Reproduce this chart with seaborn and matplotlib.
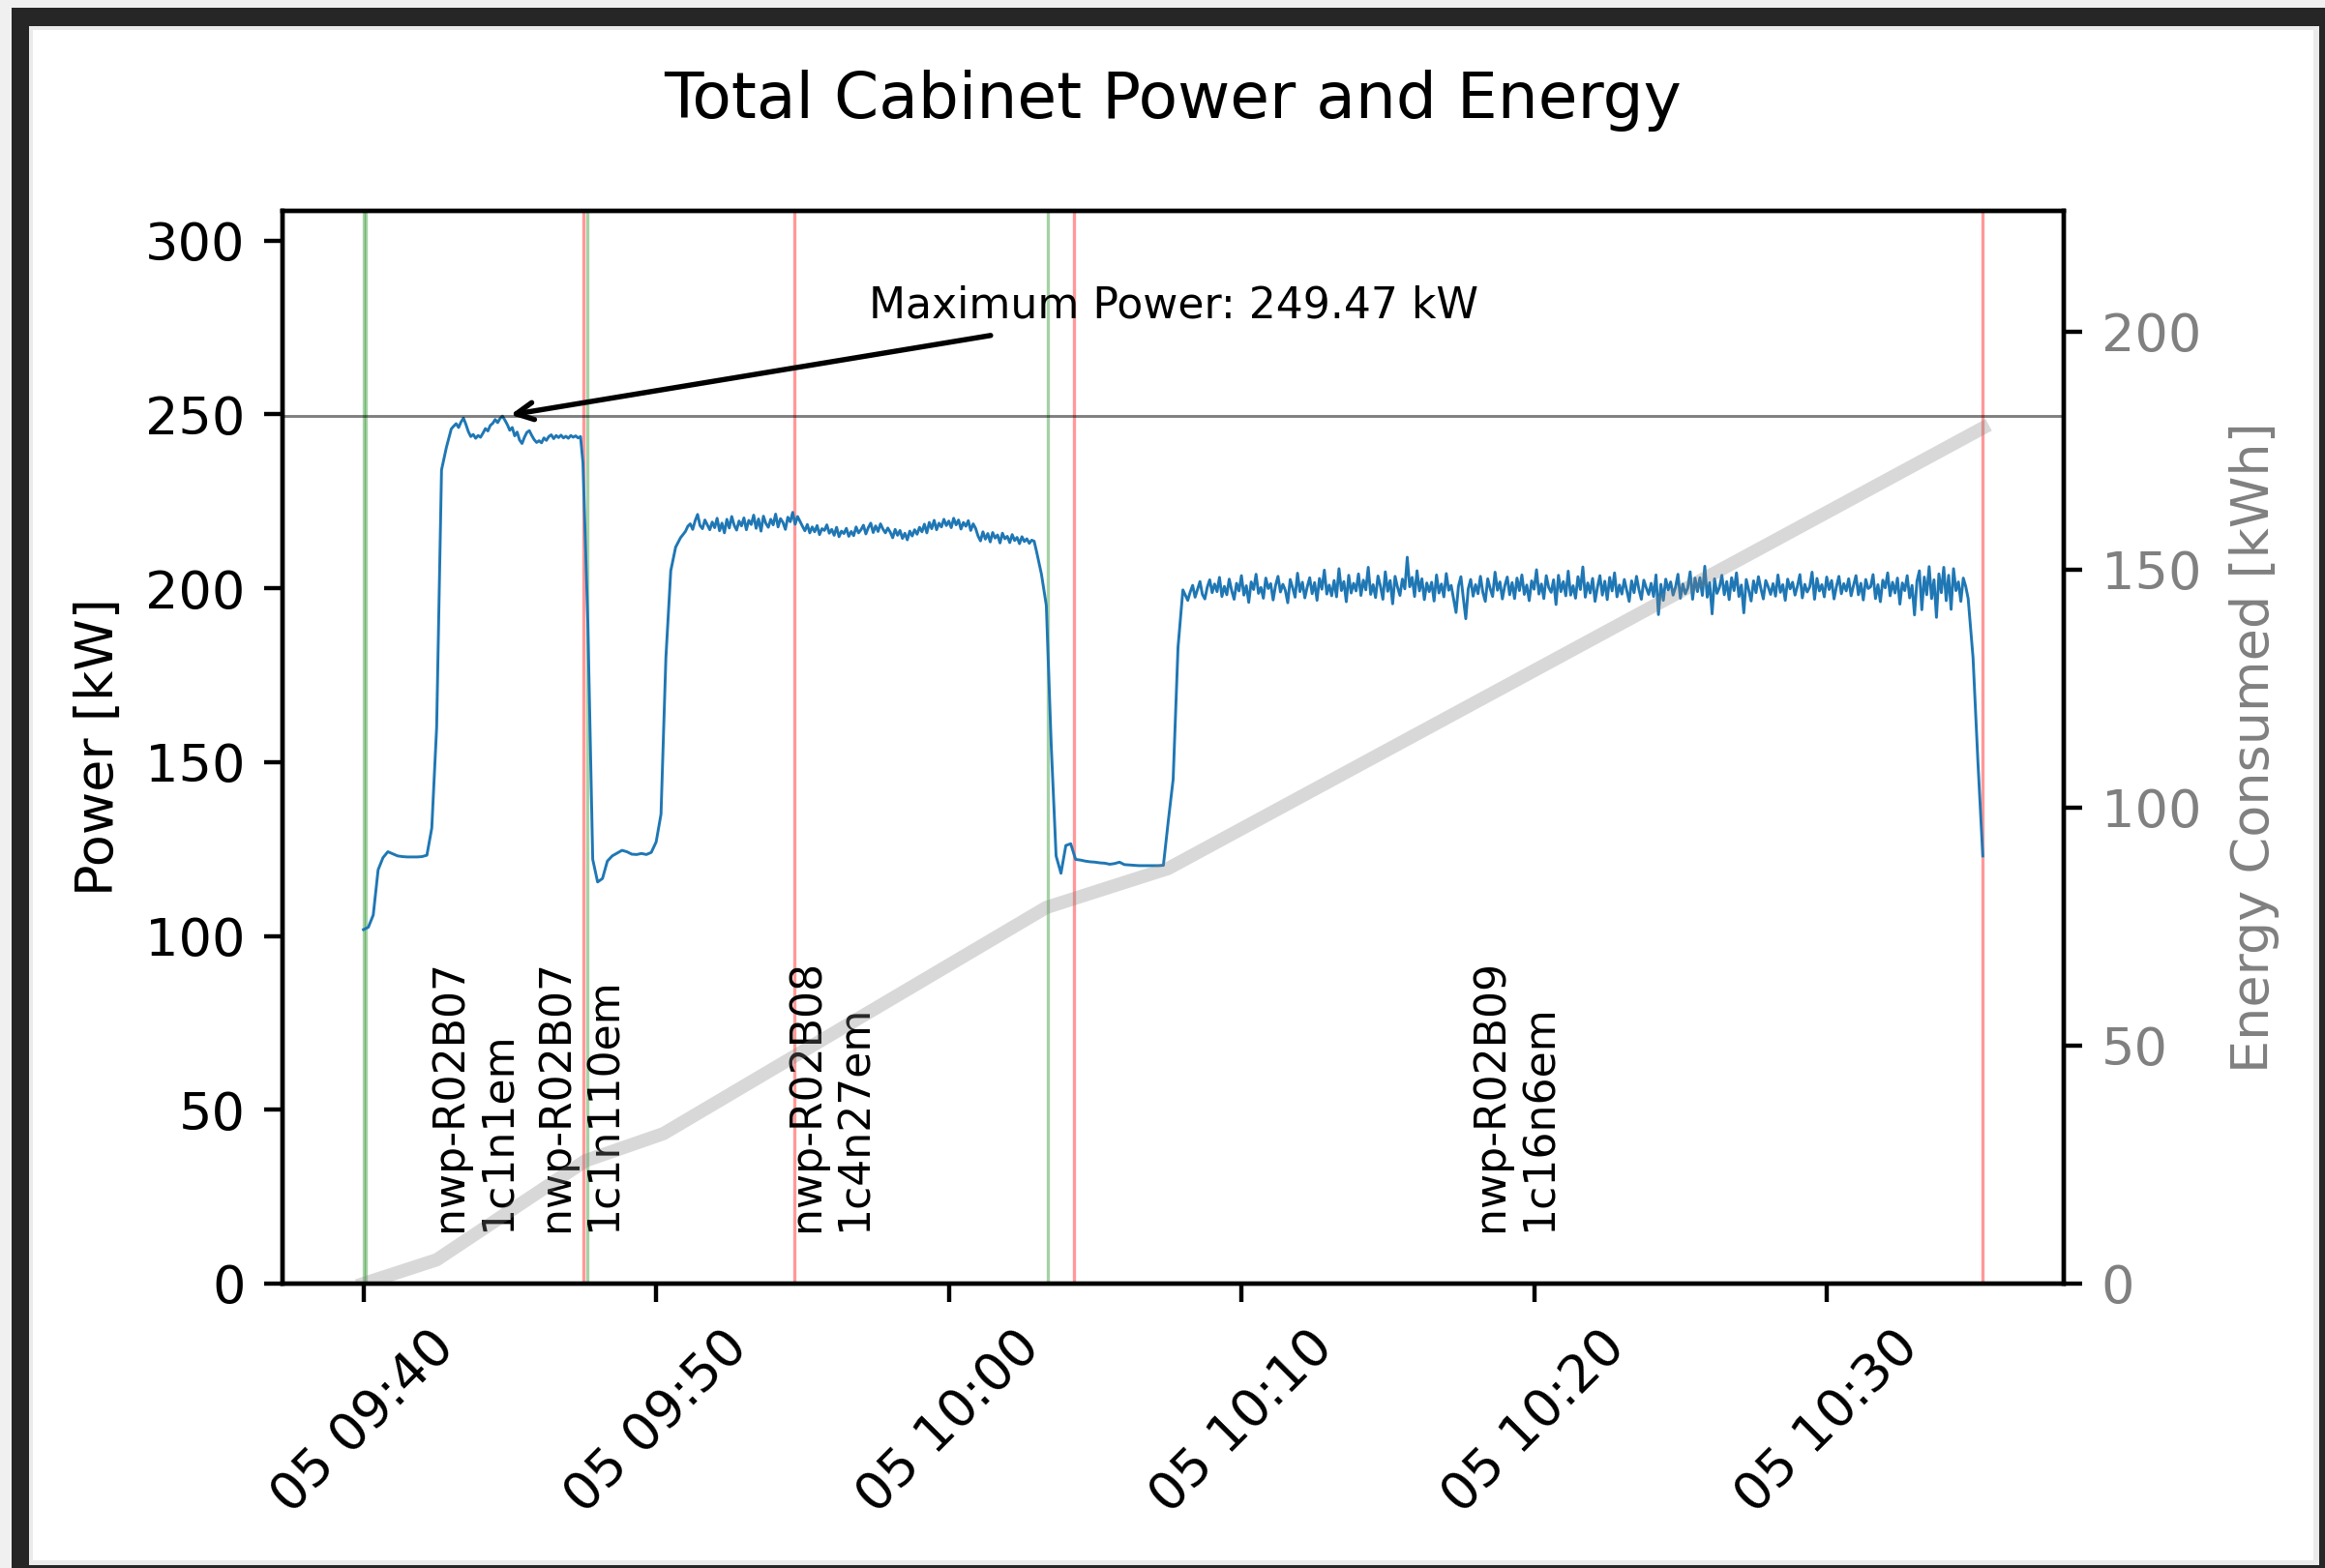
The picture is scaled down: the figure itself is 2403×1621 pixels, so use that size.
import numpy as np
import pandas as pd
import matplotlib
matplotlib.use("Agg")
import matplotlib.pyplot as plt
import matplotlib.dates as mdates
from matplotlib.patches import Rectangle
import seaborn as sns

# ---------------- data ----------------
DAY = "2024-03-05"

# power readings (kW); each block has its own start time and sampling step (s)
ramp_up_1 = [101.8, 102.5, 106.0, 119.0, 122.5, 124.2, 123.6, 123.0, 122.8, 122.7,
             122.7, 122.7, 122.8, 123.2, 131.0, 160.0, 234.0, 240.5]
plateau_1 = [245.8, 246.6, 247.3, 246.2, 247.8, 248.9, 247.1, 245.0, 243.6, 244.2, 243.1, 243.9,
             243.4, 244.6, 245.9, 245.2, 246.8, 247.4, 248.5, 247.6, 248.8, 249.47, 248.3, 247.0,
             245.4, 246.2, 243.8, 244.9, 242.6, 241.6, 243.4, 244.8, 245.3, 243.9, 242.7, 241.9,
             242.4, 241.8, 243.2, 242.5, 243.6, 244.1, 243.0, 243.9, 243.3, 244.0, 243.2, 243.7,
             243.1, 243.9, 243.4, 243.8, 243.2, 243.6]
gap_1 = [236.0, 190.0, 122.0, 115.5, 116.5, 121.5, 123.0, 123.8, 124.6, 124.2,
         123.5, 123.4, 123.7, 123.4, 124.0, 127.0, 135.0, 180.0, 205.0, 211.8, 214.5]
plateau_2 = [216.3, 217.8, 218.5, 216.9, 219.4, 221.2, 218.0, 217.1, 219.6, 218.2, 216.8, 219.0,
             217.4, 220.1, 216.5, 218.7, 215.9, 219.8, 217.3, 220.6, 218.1, 216.7, 219.3, 217.9,
             220.2, 216.8, 219.5, 218.3, 221.0, 217.2, 219.9, 216.4, 220.7, 218.6, 217.5, 219.8,
             218.2, 221.3, 217.6, 220.0, 218.9, 216.9, 220.4, 219.1, 221.8, 218.4, 220.6, 219.2,
             217.8, 216.5, 218.3, 215.9, 217.6, 216.2, 218.0, 215.4, 217.1, 216.6, 218.2, 215.8,
             216.9, 215.2, 217.5, 214.8, 216.4, 215.7, 217.2, 214.9, 216.3, 215.1, 217.6, 215.9,
             216.8, 218.1, 215.6, 217.4, 218.7, 216.0, 217.9, 216.3, 218.5, 217.0, 215.9, 217.3,
             216.1, 214.5, 216.9, 215.2, 216.6, 214.3, 215.8, 213.9, 216.4, 215.0, 216.8, 215.5,
             217.5, 216.2, 218.4, 215.9, 218.9, 217.1, 219.5, 216.8, 218.7, 217.6, 219.8, 218.0,
             219.3, 217.4, 220.1, 218.2, 219.6, 217.0, 218.9, 217.8, 219.4, 216.6, 218.5, 217.2,
             215.0, 213.6, 216.2, 214.1, 215.7, 213.3, 216.0, 214.4, 215.3, 213.0, 215.8, 214.2,
             214.9, 213.1, 215.4, 213.7, 214.6, 212.8, 214.8, 213.4, 214.2, 212.9, 213.8, 213.5]
gap_2 = [210.5, 204.0, 195.0, 155.0, 123.0, 118.0, 126.0, 126.5, 122.0, 121.8,
         121.5, 121.3, 121.2, 121.0, 120.9, 120.6, 120.8, 121.2, 120.5, 120.4,
         120.3, 120.2, 120.2, 120.2, 120.2, 120.2, 120.3, 133.0, 145.0, 183.0, 199.5]
plateau_3 = [196.5, 198.9, 200.8, 197.4, 199.6, 201.9, 198.2, 196.9, 200.3, 202.4,
             198.7, 201.2, 199.0, 203.1, 197.6, 200.5, 198.1, 202.6, 199.3, 196.8,
             201.4, 199.2, 203.6, 198.0, 200.7, 195.9, 201.8, 199.6, 204.0, 198.5,
             200.2, 197.1, 202.9, 199.9, 201.3, 196.6, 200.8, 203.4, 198.9, 201.1,
             199.4, 195.8, 202.5, 200.1, 197.4, 204.3, 199.0, 201.7, 197.2, 200.4,
             203.0, 198.4, 201.6, 196.5, 202.8, 199.7, 205.2, 198.3, 200.9, 197.8,
             202.2, 197.5, 205.6, 199.3, 201.9, 196.1, 203.7, 198.6, 201.4, 199.2,
             204.1, 197.9, 202.3, 199.5, 206.0, 198.2, 201.0, 197.3, 203.5, 200.6,
             196.8, 204.7, 199.1, 202.2, 195.5, 203.4, 200.3, 197.9, 202.6, 199.8,
             208.9, 200.4, 203.1, 197.6, 205.0, 199.2, 202.7, 196.7, 201.5, 199.0,
             201.7, 196.3, 203.8, 198.6, 201.2, 197.5, 204.2, 199.4, 200.8, 196.9,
             193.0, 200.6, 203.3, 197.1, 191.2, 199.8, 202.5, 197.7, 201.0, 198.4,
             203.4, 198.8, 196.2, 202.7, 199.9, 197.6, 204.6, 199.4, 201.8, 196.9,
             200.7, 203.2, 198.1, 201.6, 197.0, 202.9, 199.3, 203.8, 198.2, 200.9,
             196.4, 202.1, 199.7, 205.3, 198.3, 201.2, 197.0, 203.6, 200.2, 198.8,
             202.4, 195.3, 203.7, 199.0, 201.9, 197.8, 204.9, 198.0, 200.7, 197.1,
             203.3, 199.6, 206.1, 197.4, 201.5, 198.6, 202.8, 196.2, 200.3, 203.6,
             198.0, 202.0, 196.7, 203.1, 199.2, 204.4, 197.5, 200.9, 198.3, 202.5,
             199.4, 196.2, 202.1, 198.7, 203.4, 199.6, 196.8, 202.3, 200.1, 198.2,
             201.4, 197.6, 203.8, 192.4, 201.1, 196.5, 202.6, 199.5, 201.8, 198.0,
             200.3, 204.0, 197.1, 201.2, 198.4, 200.0, 204.7, 196.8, 202.9, 199.0,
             203.0, 197.9, 206.3, 197.4, 201.6, 192.6, 202.7, 198.5, 200.2, 203.7,
             198.1, 201.9, 196.7, 203.0, 199.3, 204.4, 197.6, 200.9, 192.9, 202.5,
             199.5, 196.3, 202.1, 198.7, 203.3, 199.9, 196.9, 202.2, 200.4, 198.2,
             201.3, 197.7, 203.8, 198.8, 201.0, 196.5, 202.6, 199.8, 201.7, 198.0,
             200.6, 203.9, 197.2, 201.1, 198.9, 200.3, 204.6, 196.8, 202.8, 199.2,
             201.0, 197.5, 203.2, 199.6, 202.2, 196.9, 200.5, 203.4, 198.4, 201.3,
             199.2, 202.7, 197.8, 200.8, 203.6, 198.1, 201.4, 196.6, 202.5, 199.9,
             200.4, 203.9, 197.0, 201.0, 196.1, 202.3, 200.1, 204.4, 197.8, 201.7,
             198.6, 202.9, 195.4, 201.5, 199.3, 203.6, 197.2, 200.8, 192.3, 202.0,
             205.0, 193.8, 203.2, 198.1, 206.2, 197.0, 202.4, 191.6, 204.1, 198.7,
             206.0, 196.4, 203.7, 193.9, 205.6, 199.3, 201.8, 196.2, 202.9, 200.5]
ramp_down = [197.0, 180.0, 150.0, 123.0]

block_values = [ramp_up_1, plateau_1, gap_1, plateau_2, gap_2, plateau_3, ramp_down]
block_start = ["09:40:00", "09:43:00", "09:47:30", "09:51:00", "10:03:00", "10:08:10", "10:34:50"]
block_step_s = [10, 5, 10, 5, 10, 5, 10]

# cumulative energy (kWh)
energy_times = ["09:40:00", "09:42:30", "09:47:35", "09:50:15", "10:03:20", "10:07:30", "10:35:20"]
energy_kwh = [0.0, 5.0, 25.8, 31.5, 79.0, 87.2, 179.7]

# jobs
job_names = ["nwp-R02B07\n1c1n1em", "nwp-R02B07\n1c1n110em",
             "nwp-R02B08\n1c4n27em", "nwp-R02B09\n1c16n6em"]
job_start = ["09:40:00", "09:40:04", "09:47:38", "10:03:23"]
job_end = ["09:47:30", "09:54:44", "10:04:16", "10:35:20"]

power_ticks = [0, 50, 100, 150, 200, 250, 300]
energy_ticks = [0, 50, 100, 150, 200]
power_ylim = (0, 308.5)
energy_ylim = (0, 225.3)

# ---------------- frames ----------------
ts = lambda s: pd.Timestamp(f"{DAY} {s}")
parts = []
for vals, start, step in zip(block_values, block_start, block_step_s):
    parts.append(pd.DataFrame({
        "time": ts(start) + pd.to_timedelta(np.arange(len(vals)) * step, unit="s"),
        "power": vals,
    }))
power_df = pd.concat(parts, ignore_index=True)
energy_df = pd.DataFrame({
    "time": pd.to_datetime([f"{DAY} {t}" for t in energy_times]),
    "energy": energy_kwh,
})

# ---------------- style ----------------
k = 1.32
plt.rcParams.update({
    "font.family": ["DejaVu Sans"],
    "font.size": 13,
    "axes.linewidth": 0.8 * k,
    "xtick.major.size": 3.5 * k, "ytick.major.size": 3.5 * k,
    "xtick.major.width": 0.8 * k, "ytick.major.width": 0.8 * k,
    "xtick.major.pad": 3.5 * k, "ytick.major.pad": 3.5 * k,
    "xtick.labelsize": 13, "ytick.labelsize": 13,
    "axes.labelsize": 13, "axes.labelpad": 4 * k,
})

W, H = 2403, 1621
fig = plt.figure(figsize=(W / 300, H / 300), dpi=300, facecolor="#f0f0f0")

def frame_rect(x0, y0, x1, y1, color, z):
    fig.add_artist(Rectangle((x0 / W, 1 - y1 / H), (x1 - x0) / W, (y1 - y0) / H,
                             transform=fig.transFigure, facecolor=color,
                             edgecolor="none", zorder=z))

frame_rect(11.5, 8, W, H, "#262626", -30)
frame_rect(30, 27, 2397, 1618, "#ebebeb", -29)
frame_rect(34, 31, 2391, 1613, "white", -28)

ax = fig.add_axes([292 / W, 1 - 1327 / H, (2133 - 292) / W, (1327 - 218) / H])

# job start / end markers
for s, e in zip(job_start, job_end):
    ax.axvline(ts(s), color="green", alpha=0.35, lw=0.8)
    ax.axvline(ts(e), color="red", alpha=0.4, lw=0.8)

sns.lineplot(data=power_df, x="time", y="power", ax=ax, color="#1f77b4", lw=0.7)

pmax = power_df["power"].max()
tmax = power_df["time"][power_df["power"].idxmax()]
ax.axhline(pmax, color="black", alpha=0.5, lw=0.7)
ax.annotate(f"Maximum Power: {pmax:.2f} kW", xy=(tmax, pmax),
            xytext=(0.5, 0.912), textcoords="axes fraction",
            ha="center", va="center", fontsize=10.6,
            arrowprops=dict(arrowstyle="->", color="black", lw=1.3))

for name, s, e in zip(job_names, job_start, job_end):
    mid = ts(s) + (ts(e) - ts(s)) / 2
    ax.text(mid, 15, name, rotation=90, ha="center", va="bottom",
            multialignment="left", fontsize=10.6)

ax.set_ylim(*power_ylim)
ax.set_yticks(power_ticks)
ax.set_ylabel("Power [kW]")
ax.set_xlabel("")
ax.xaxis.set_major_locator(mdates.MinuteLocator(byminute=range(0, 60, 10)))
ax.xaxis.set_major_formatter(mdates.DateFormatter("%d %H:%M"))
ax.tick_params(axis="x", labelrotation=45)
ax.set_title("Total Cabinet Power and Energy", fontsize=15.9, pad=23)

ax2 = ax.twinx()
sns.lineplot(data=energy_df, x="time", y="energy", ax=ax2, color="gray", alpha=0.3, lw=3.3)
ax2.set_ylim(*energy_ylim)
ax2.set_yticks(energy_ticks)
ax2.set_ylabel("Energy Consumed [kWh]", color="gray", labelpad=7)
ax2.tick_params(axis="y", labelcolor="gray")
ax2.set_xlabel("")

fig.savefig("out.png", dpi=300, facecolor=fig.get_facecolor())
